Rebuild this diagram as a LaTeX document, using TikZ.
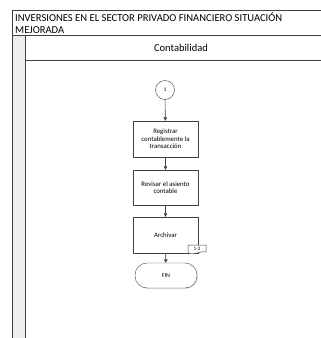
\documentclass[tikz,border=0pt]{standalone}
\usepackage{fontspec}
\setmainfont{Carlito}
\usepackage{tikz}
\usetikzlibrary{positioning,arrows.meta,shadows}
\definecolor{linegray}{HTML}{404040}
\definecolor{lanegray}{HTML}{EEEEEE}
\tikzset{
  proc/.style={draw=linegray, fill=white, minimum width=65pt, minimum height=36pt,
    align=center, font=\fontsize{6.8}{7.6}\selectfont, inner sep=1pt,
    drop shadow={shadow xshift=0.8pt, shadow yshift=-0.8pt, fill=black!25}},
  term/.style={draw=linegray, fill=white, rounded corners=12pt, minimum width=62pt,
    minimum height=25pt, font=\fontsize{6}{7}\selectfont,
    drop shadow={shadow xshift=0.8pt, shadow yshift=-0.8pt, fill=black!25}},
  conn/.style={draw=linegray, fill=white, circle, minimum size=19pt, inner sep=0pt,
    font=\fontsize{5.5}{6}\selectfont},
  flow/.style={draw=linegray, line width=0.6pt, -{Triangle[length=3.5pt,width=3.5pt]}},
  frame/.style={draw=linegray, line width=0.7pt}
}
\begin{document}
\begin{tikzpicture}[x=1pt,y=-1pt]
  \useasboundingbox (0,0) rectangle (321,338);

  % pool and lane
  \fill[lanegray] (12.5,35.5) rectangle (25.5,338);
  \draw[frame] (321,10.5) -- (12.5,10.5) -- (12.5,338);
  \draw[frame] (12.5,35.5) -- (321,35.5);
  \draw[frame] (25.5,35.5) -- (25.5,338);
  \draw[frame] (25.5,60) -- (321,60);
  \node[anchor=north west, align=left, inner sep=0pt, font=\fontsize{10.6}{12.5}\selectfont]
    (title) at (15,12.3) {INVERSIONES EN EL SECTOR PRIVADO FINANCIERO SITUACIÓN\\MEJORADA};
  \node[font=\fontsize{10.5}{12}\selectfont] (lane) at (181,48) {Contabilidad};

  % flow
  \node[conn] (c1) at (165,90) {1};
  \node[proc] (reg) at (165.5,139) {Registrar\\contablemente la\\transacción};
  \node[proc, minimum height=35pt] (rev) at (165.5,187.5) {Revisar el asiento\\contable};
  \node[proc] (arch) at (165.5,235) {Archivar};
  \node[term] (fin) at (166,275.5) {FIN};

  \draw[flow] (c1) -- (reg);
  \draw[flow] (reg) -- (rev);
  \draw[flow] (rev) -- (arch);
  \draw[flow] (arch) -- (fin);

  % off-page reference
  \draw[draw=linegray, fill=white, line width=0.5pt] (188,245) -- (206,245) -- (206,252)
    .. controls (201,250) and (195,256) .. (188,253) -- cycle;
  \node[inner sep=0pt, font=\fontsize{5}{6}\selectfont] (ref) at (197,248.8) {1-2};
\end{tikzpicture}
\end{document}
